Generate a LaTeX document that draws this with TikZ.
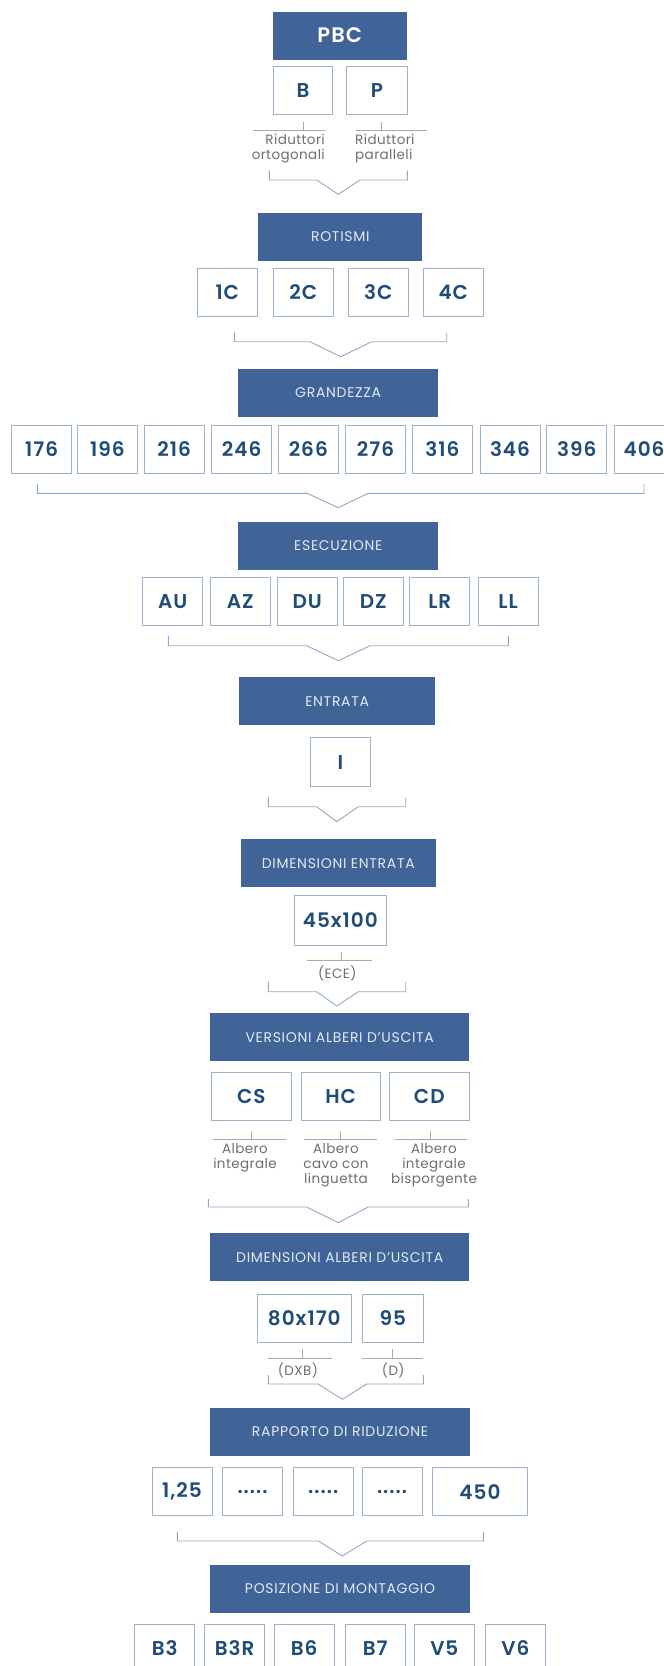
\documentclass[tikz,border=0pt]{standalone}
\usepackage{fontspec}
\setmainfont{Poppins}[BoldFont={Poppins SemiBold}]
\newfontfamily\hdrfont{Poppins}[LetterSpace=5]
\newfontfamily\lblfont{Poppins}[LetterSpace=3]
\newfontfamily\valfont{Poppins SemiBold}[LetterSpace=5]
\definecolor{hdrblue}{HTML}{406498}
\definecolor{hdrtext}{HTML}{E3E9F1}
\definecolor{boxline}{HTML}{9BB4CC}
\definecolor{valblue}{HTML}{1F4D78}
\definecolor{lblgray}{HTML}{6E6E6E}
\definecolor{ulgray}{HTML}{A8A8A8}
\definecolor{brkblue}{HTML}{8FAAC6}
\tikzset{
    hdr/.style={fill=hdrblue, text=hdrtext, minimum height=48pt, inner sep=0pt, font=\hdrfont\fontsize{14}{16}\selectfont},
    val/.style={draw=boxline, line width=0.9pt, fill=white, text=valblue, minimum width=60pt, minimum height=48pt, inner sep=0pt, font=\valfont\fontsize{20}{22}\selectfont},
    lbl/.style={text=lblgray, inner sep=0pt, font=\lblfont\fontsize{13.5}{15}\selectfont},
    uline/.style={draw=ulgray, line width=0.8pt},
    brk/.style={draw=brkblue, line width=0.9pt},
}
\newcommand{\choicebrk}[8]{\draw[brk] (#1,#3) -- (#1,#4) -- (#5,#4) -- (#6,#8) -- (#7,#4) -- (#2,#4) -- (#2,#3);}
\begin{document}
\begin{tikzpicture}[x=1pt, y=-1pt]
    \useasboundingbox (0,0) rectangle (664,1666);
    \clip (0,0) rectangle (664,1666);
    \node[hdr, minimum width=134pt, font=\valfont\fontsize{21}{22}\selectfont, text=white] (pbc) at (339.7,35.5) {PBC};
    \node[val, minimum width=59.4pt] (b) at (303,90.8) {B};
    \node[val, minimum width=60.6pt] (p) at (377,90.8) {P};
    \draw[uline] (252.7,130.7) -- (325,130.7) (303.3,121.7) -- (303.3,130.7);
    \draw[uline] (356,130.7) -- (427.3,130.7) (381.3,121.7) -- (381.3,130.7);
    \node[lbl, anchor=east, align=right] (blbl) at (325,149) {Riduttori\\ortogonali};
    \node[lbl, anchor=west, align=left] (plbl) at (355,149) {Riduttori\\paralleli};
    \choicebrk{269.3}{407.3}{170.7}{180}{316.7}{338.3}{360}{194.3}
    \node[hdr, minimum width=164pt] (rot) at (340.3,236.7) {ROTISMI};
    \node[val] (c1) at (227.3,292.5) {1C};
    \node[val] (c2) at (303.3,292.5) {2C};
    \node[val] (c3) at (378.3,292.5) {3C};
    \node[val] (c4) at (453.3,292.5) {4C};
    \choicebrk{234.3}{446.7}{332.7}{341.7}{310}{340.7}{371.7}{356.7}
    \node[hdr, minimum width=200.3pt] (gra) at (338.2,393) {GRANDEZZA};
    \node[val] (g176) at (41.7,449.2) {176};
    \node[val] (g196) at (107.3,449.2) {196};
    \node[val] (g216) at (174.2,449.2) {216};
    \node[val] (g246) at (241.7,449.2) {246};
    \node[val] (g266) at (308.3,449.2) {266};
    \node[val] (g276) at (375.5,449.2) {276};
    \node[val] (g316) at (442.3,449.2) {316};
    \node[val] (g346) at (510,449.2) {346};
    \node[val] (g396) at (576.7,449.2) {396};
    \node[val] (g406) at (644,449.2) {406};
    \choicebrk{37.3}{644}{484}{493.3}{307.3}{338}{368.3}{507.7}
    \node[hdr, minimum width=200pt] (ese) at (338.3,545.5) {ESECUZIONE};
    \node[val] (au) at (172.7,601.5) {AU};
    \node[val] (az) at (240.3,601.5) {AZ};
    \node[val] (du) at (307.2,601.5) {DU};
    \node[val] (dz) at (373.2,601.5) {DZ};
    \node[val] (lr) at (439.8,601.5) {LR};
    \node[val] (ll) at (508,601.5) {LL};
    \choicebrk{168.3}{508.3}{636}{645.7}{306.7}{338.3}{370}{660.7}
    \node[hdr, minimum width=195.7pt] (ent) at (337.2,701.3) {ENTRATA};
    \node[val, minimum height=49pt] (i) at (340.5,762.2) {I};
    \choicebrk{268.3}{405.7}{797.3}{806.7}{316.7}{336.7}{358.3}{821.7}
    \node[hdr, minimum width=195.3pt] (dimin) at (338.3,863.3) {DIMENSIONI ENTRATA};
    \node[val, minimum width=92.7pt, minimum height=50pt] (ece) at (340.3,920.5) {45x100};
    \draw[uline] (307.3,960.7) -- (371.7,960.7) (341.7,951.7) -- (341.7,960.7);
    \node[lbl] (ecelbl) at (337.3,973.3) {(ECE)};
    \choicebrk{268.3}{405.7}{981.7}{991.7}{316.7}{336.7}{358.3}{1006}
    \node[hdr, minimum width=259.3pt] (ver) at (339.7,1037.2) {VERSIONI ALBERI D’USCITA};
    \node[val, minimum width=79.5pt] (cs) at (251.3,1096.2) {CS};
    \node[val, minimum width=79.5pt] (hc) at (340.7,1096.2) {HC};
    \node[val, minimum width=79.5pt] (cd) at (429.3,1096.2) {CD};
    \draw[uline] (213.3,1139.3) -- (286,1139.3) (251.7,1130.7) -- (251.7,1139.3);
    \draw[uline] (304,1139.3) -- (376.7,1139.3) (340,1130.7) -- (340,1139.3);
    \draw[uline] (395,1139.3) -- (467.3,1139.3) (430.7,1130.7) -- (430.7,1139.3);
    \node[lbl, anchor=north, align=center] (cslbl) at (245,1143) {Albero\\integrale};
    \node[lbl, anchor=north, align=center] (hclbl) at (336,1143) {Albero\\cavo con\\linguetta};
    \node[lbl, anchor=north, align=center] (cdlbl) at (434,1143) {Albero\\integrale\\bisporgente};
    \choicebrk{208.3}{468.3}{1199}{1207}{306.7}{338.3}{368.3}{1222.7}
    \node[hdr, minimum width=259.3pt] (dimal) at (339.7,1257.2) {DIMENSIONI ALBERI D’USCITA};
    \node[val, minimum width=93.3pt] (dxb) at (304.3,1318.2) {80x170};
    \node[val, minimum width=60.7pt] (d) at (392.7,1318.2) {95};
    \draw[uline] (268.3,1358.3) -- (332.3,1358.3) (302,1349) -- (302,1358.3);
    \draw[uline] (362.3,1358.3) -- (423.3,1358.3) (392.3,1349) -- (392.3,1358.3);
    \node[lbl] (dxblbl) at (298,1370) {(DXB)};
    \node[lbl] (dlbl) at (393.3,1370) {(D)};
    \choicebrk{268.3}{423.3}{1375}{1384}{318.3}{342.3}{366.7}{1399.3}
    \node[hdr, minimum width=260pt] (rap) at (340,1431.8) {RAPPORTO DI RIDUZIONE};
    \node[val] (r1) at (182,1491.7) {1,25};
    \node[val] (r2) at (252.5,1491.7) {.....};
    \node[val] (r3) at (323.2,1491.7) {.....};
    \node[val] (r4) at (392,1491.7) {.....};
    \node[val, minimum width=95.3pt] (r5) at (480,1491.7) {450};
    \choicebrk{177.3}{483.3}{1531.7}{1541}{318.3}{342.3}{366.7}{1556}
    \node[hdr, minimum width=260pt] (pos) at (340,1588.8) {POSIZIONE DI MONTAGGIO};
    \node[val] (b3) at (164.7,1648) {B3};
    \node[val] (b3r) at (234.7,1648) {B3R};
    \node[val] (b6) at (304.2,1648) {B6};
    \node[val] (b7) at (375.2,1648) {B7};
    \node[val] (v5) at (444.3,1648) {V5};
    \node[val] (v6) at (515.3,1648) {V6};
\end{tikzpicture}
\end{document}
